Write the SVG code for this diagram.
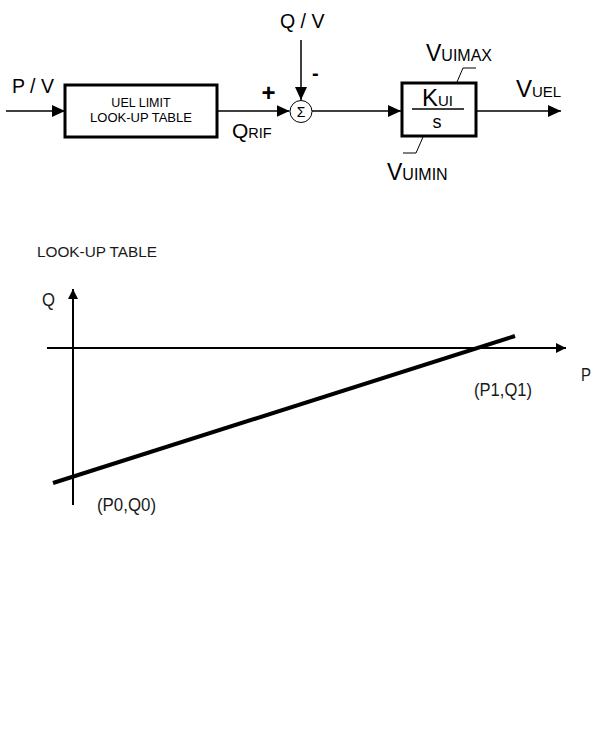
<svg xmlns="http://www.w3.org/2000/svg" width="614" height="734" viewBox="0 0 614 734">
<defs>
<style>
.a{font-family:"Liberation Sans",Arial,sans-serif;fill:#000}
.c{font-family:"Liberation Sans",Arial,sans-serif;fill:#1a1a1a}
.ln{stroke:#000;stroke-width:1.5;fill:none}
.box{stroke:#000;stroke-width:3;fill:#fff}
.thin{stroke:#000;stroke-width:1;fill:none}
</style>
<marker id="ah" markerUnits="userSpaceOnUse" markerWidth="14" markerHeight="12" refX="13" refY="6" orient="auto">
<path d="M0,0 L13,6 L0,12 Z" fill="#000"/>
</marker>
<marker id="ah2" markerUnits="userSpaceOnUse" markerWidth="11" markerHeight="10" refX="10" refY="5" orient="auto">
<path d="M0,0 L10,5 L0,10 Z" fill="#000"/>
</marker>
</defs>
<rect width="614" height="734" fill="#fff"/>

<g id="connectors">
<line class="ln" x1="6" y1="111" x2="65" y2="111" marker-end="url(#ah)"/>
<line class="ln" x1="217" y1="111" x2="289.5" y2="111" marker-end="url(#ah)"/>
<line class="ln" x1="301" y1="40" x2="301" y2="100" marker-end="url(#ah)"/>
<line class="ln" x1="312" y1="111" x2="401" y2="111" marker-end="url(#ah)"/>
<line class="ln" x1="476" y1="111" x2="561" y2="111" marker-end="url(#ah)"/>
</g>

<g id="input-label">
<text class="a" x="12" y="93" font-size="19.5">P / V</text>
</g>

<g id="lookup-block">
<rect class="box" x="65" y="85" width="152" height="52"/>
<text class="a" x="141" y="107" font-size="12.5" text-anchor="middle">UEL LIMIT</text>
<text class="a" x="141" y="122" font-size="13" text-anchor="middle">LOOK-UP TABLE</text>
</g>

<g id="qrif-label">
<text class="a" x="232" y="138"><tspan font-size="21">Q</tspan><tspan font-size="14.5">RIF</tspan></text>
</g>

<g id="qv-label">
<text class="a" x="280" y="28" font-size="19.5">Q / V</text>
</g>

<g id="sum">
<circle cx="301" cy="111.5" r="11" fill="#fff" stroke="#000" stroke-width="1"/>
<text class="a" x="301" y="116.5" font-size="14" text-anchor="middle">Σ</text>
<text class="a" x="261.5" y="101" font-size="24" font-weight="bold">+</text>
<text class="a" x="312" y="80" font-size="20" font-weight="bold">-</text>
</g>

<g id="integrator">
<rect class="box" x="402" y="83" width="74" height="53"/>
<line class="ln" x1="412" y1="109" x2="464" y2="109"/>
<text class="a" x="422" y="106"><tspan font-size="24">K</tspan><tspan font-size="15">UI</tspan></text>
<text class="a" x="437" y="128" font-size="18" text-anchor="middle">s</text>
<path class="thin" d="M457,82 L463,68 L476,68"/>
<path class="thin" d="M423,137 L416,153 L403,153"/>
<text class="a" x="426" y="61"><tspan font-size="23">V</tspan><tspan font-size="16">UIMAX</tspan></text>
<text class="a" x="387" y="180"><tspan font-size="23">V</tspan><tspan font-size="16">UIMIN</tspan></text>
</g>

<g id="output-label">
<text class="a" x="516" y="97"><tspan font-size="24">V</tspan><tspan font-size="15">UEL</tspan></text>
</g>

<g id="chart">
<text class="c" x="37" y="257" font-size="15.5" textLength="120" lengthAdjust="spacingAndGlyphs">LOOK-UP TABLE</text>
<line x1="73" y1="505" x2="73" y2="289" stroke="#000" stroke-width="2" marker-end="url(#ah2)"/>
<line x1="47" y1="348" x2="566" y2="348" stroke="#000" stroke-width="2" marker-end="url(#ah2)"/>
<line x1="53" y1="483" x2="515" y2="336" stroke="#000" stroke-width="4"/>
<text class="c" x="42" y="306" font-size="18" textLength="13" lengthAdjust="spacingAndGlyphs">Q</text>
<text class="c" x="581" y="381" font-size="18" textLength="10" lengthAdjust="spacingAndGlyphs">P</text>
<text class="c" x="474" y="396" font-size="18" textLength="58" lengthAdjust="spacingAndGlyphs">(P1,Q1)</text>
<text class="c" x="97" y="511" font-size="18" textLength="59" lengthAdjust="spacingAndGlyphs">(P0,Q0)</text>
</g>
</svg>
